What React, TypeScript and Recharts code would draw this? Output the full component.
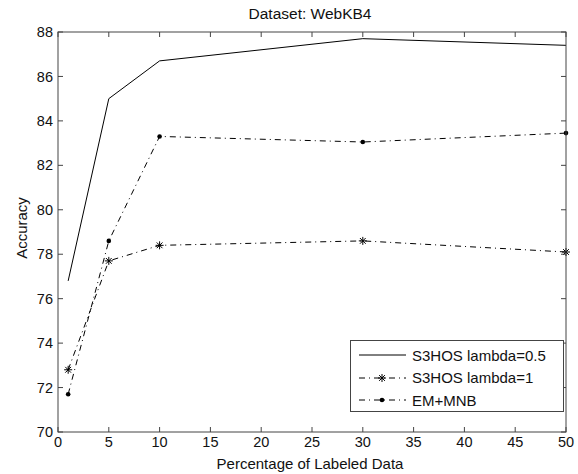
import { LineChart, Line, XAxis, YAxis } from "recharts";

const xValues = [1, 5, 10, 30, 50];
const s3hosHalf = [76.8, 85.0, 86.7, 87.7, 87.4];
const s3hosOne = [72.8, 77.7, 78.4, 78.6, 78.1];
const emMnb = [71.7, 78.6, 83.3, 83.05, 83.45];

const xTicks = [0, 5, 10, 15, 20, 25, 30, 35, 40, 45, 50];
const yTicks = [70, 72, 74, 76, 78, 80, 82, 84, 86, 88];

const seriesNames = ["S3HOS lambda=0.5", "S3HOS lambda=1", "EM+MNB"];

const data = xValues.map((x, i) => ({
  x,
  s05: s3hosHalf[i],
  s1: s3hosOne[i],
  em: emMnb[i],
}));

const xMin = 0;
const xMax = 50;
const yMin = 70;
const yMax = 88;

// plot box (from chart margins + axis sizes below)
const W = 578;
const H = 474;
const margin = { top: 32, right: 12, bottom: 12, left: 18 };
const yAxisW = 40;
const xAxisH = 30;
const plotL = margin.left + yAxisW;
const plotT = margin.top;
const plotW = W - margin.left - margin.right - yAxisW;
const plotH = H - margin.top - margin.bottom - xAxisH;

const font = "'Liberation Sans', Arial, sans-serif";
const textColor = "#111";
const axisColor = "#444";
const dashDot = "6 4 1 4";

function Asterisk(props: any) {
  const { cx, cy } = props;
  if (cx == null || cy == null) return null;
  const r = 4;
  const d = r * 0.72;
  return (
    <g stroke="#000" strokeWidth={1}>
      <line x1={cx - r} y1={cy} x2={cx + r} y2={cy} />
      <line x1={cx} y1={cy - r} x2={cx} y2={cy + r} />
      <line x1={cx - d} y1={cy - d} x2={cx + d} y2={cy + d} />
      <line x1={cx - d} y1={cy + d} x2={cx + d} y2={cy - d} />
    </g>
  );
}

function Dot(props: any) {
  const { cx, cy } = props;
  if (cx == null || cy == null) return null;
  return <circle cx={cx} cy={cy} r={2.3} fill="#000" />;
}

// axes frame with inward ticks on all four sides (MATLAB box style)
function Frame() {
  const tx = (t: number) => plotL + ((t - xMin) / (xMax - xMin)) * plotW;
  const ty = (t: number) => plotT + plotH - ((t - yMin) / (yMax - yMin)) * plotH;
  const len = 5;
  return (
    <svg
      width={W}
      height={H}
      style={{ position: "absolute", left: 0, top: 0, pointerEvents: "none" }}
    >
      <g stroke={axisColor} strokeWidth={1} fill="none">
        <rect x={plotL} y={plotT} width={plotW} height={plotH} />
        {xTicks.map((t) => (
          <g key={"x" + t}>
            <line x1={tx(t)} y1={plotT + plotH} x2={tx(t)} y2={plotT + plotH - len} />
            <line x1={tx(t)} y1={plotT} x2={tx(t)} y2={plotT + len} />
          </g>
        ))}
        {yTicks.map((t) => (
          <g key={"y" + t}>
            <line x1={plotL} y1={ty(t)} x2={plotL + len} y2={ty(t)} />
            <line x1={plotL + plotW} y1={ty(t)} x2={plotL + plotW - len} y2={ty(t)} />
          </g>
        ))}
      </g>
    </svg>
  );
}

function LegendBox() {
  const rows = [
    { name: seriesNames[0], dash: undefined, marker: null },
    { name: seriesNames[1], dash: dashDot, marker: "ast" },
    { name: seriesNames[2], dash: dashDot, marker: "dot" },
  ];
  return (
    <div
      style={{
        position: "absolute",
        left: 350,
        top: 340,
        width: 212,
        height: 70,
        border: `1px solid ${axisColor}`,
        background: "#fff",
        fontFamily: font,
        fontSize: 15,
        color: textColor,
      }}
    >
      {rows.map((r, i) => (
        <div
          key={r.name}
          style={{
            position: "absolute",
            left: 0,
            top: 4 + i * 22.5,
            height: 20,
            display: "flex",
            alignItems: "center",
          }}
        >
          <svg width={60} height={20} style={{ display: "block" }}>
            <line
              x1={8}
              y1={10}
              x2={55}
              y2={10}
              stroke="#000"
              strokeWidth={1}
              strokeDasharray={r.dash}
            />
            {r.marker === "ast" && <Asterisk cx={31} cy={10} />}
            {r.marker === "dot" && <Dot cx={31} cy={10} />}
          </svg>
          <span style={{ marginLeft: 1, whiteSpace: "nowrap" }}>{r.name}</span>
        </div>
      ))}
    </div>
  );
}

export default function App() {
  const tickStyle = { fill: textColor, fontSize: 14.5, fontFamily: font };
  return (
    <div
      style={{
        position: "absolute",
        left: 0,
        top: 0,
        width: W,
        height: H,
        background: "#fff",
      }}
    >
      <LineChart width={W} height={H} data={data} margin={margin}>
        <XAxis
          dataKey="x"
          type="number"
          domain={[xMin, xMax]}
          ticks={xTicks}
          interval={0}
          height={xAxisH}
          tickSize={-5}
          tickMargin={10}
          tickLine={false}
          axisLine={false}
          tick={tickStyle}
        />
        <YAxis
          type="number"
          domain={[yMin, yMax]}
          ticks={yTicks}
          interval={0}
          width={yAxisW}
          tickSize={-5}
          tickMargin={10}
          tickLine={false}
          axisLine={false}
          tick={tickStyle}
        />
        <Line
          dataKey="s05"
          name={seriesNames[0]}
          stroke="#000"
          strokeWidth={1}
          dot={false}
          activeDot={false}
          isAnimationActive={false}
        />
        <Line
          dataKey="s1"
          name={seriesNames[1]}
          stroke="#000"
          strokeWidth={1}
          strokeDasharray={dashDot}
          dot={<Asterisk />}
          activeDot={false}
          isAnimationActive={false}
        />
        <Line
          dataKey="em"
          name={seriesNames[2]}
          stroke="#000"
          strokeWidth={1}
          strokeDasharray={dashDot}
          dot={<Dot />}
          activeDot={false}
          isAnimationActive={false}
        />
      </LineChart>
      <Frame />
      <LegendBox />
      <div
        style={{
          position: "absolute",
          left: 0,
          width: 620,
          top: 5,
          textAlign: "center",
          fontFamily: font,
          fontSize: 15.5,
          color: textColor,
        }}
      >
        Dataset: WebKB4
      </div>
      <div
        style={{
          position: "absolute",
          left: 0,
          width: 620,
          top: 455,
          textAlign: "center",
          fontFamily: font,
          fontSize: 15,
          color: textColor,
        }}
      >
        Percentage of Labeled Data
      </div>
      <div
        style={{
          position: "absolute",
          left: 21,
          top: 228,
          transform: "translate(-50%, -50%) rotate(-90deg)",
          fontFamily: font,
          fontSize: 15,
          color: textColor,
          whiteSpace: "nowrap",
        }}
      >
        Accuracy
      </div>
    </div>
  );
}
